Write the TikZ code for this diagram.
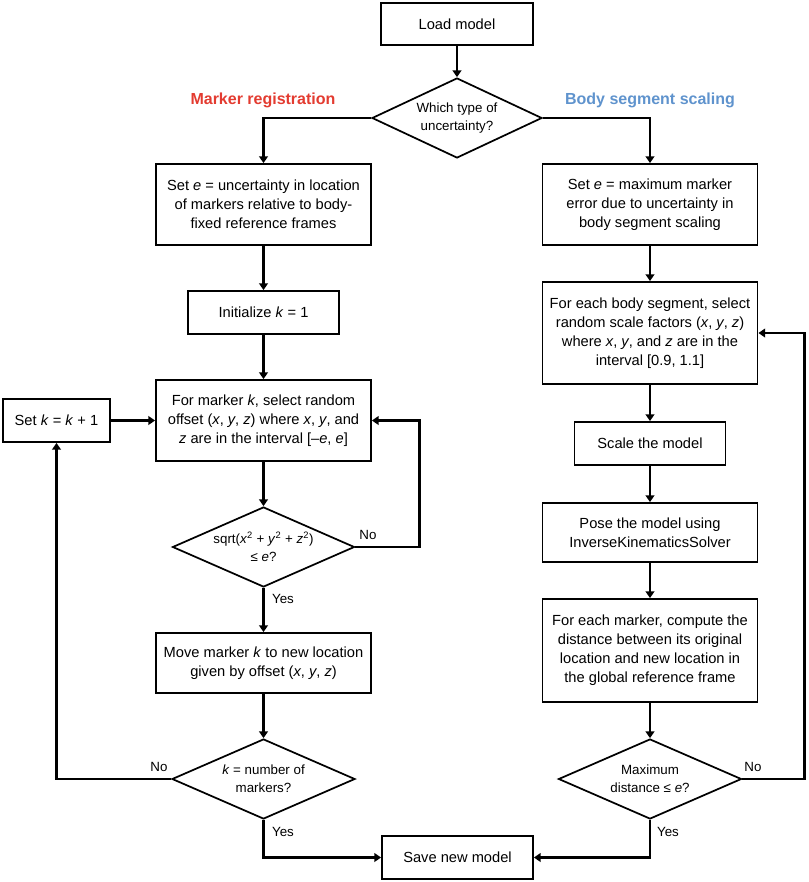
\documentclass[tikz,border=0pt]{standalone}
\usepackage{fontspec}
\setmainfont{Liberation Sans}
\usepackage{tikz}
\usetikzlibrary{arrows.meta,shapes.geometric}
\usepackage{xcolor}
\definecolor{regred}{HTML}{E33B30}
\definecolor{segblue}{HTML}{5F93CD}

\begin{document}
\begin{tikzpicture}[
  x=0.75pt, y=-0.75pt,
  box/.style={draw, line width=1.4pt, inner sep=2pt, align=center,
              font=\fontsize{11}{14.25}\selectfont},
  wide/.style={box, minimum width=161.25pt},
  narrow/.style={box, minimum width=113.25pt},
  test/.style={draw, line width=1.3pt, shape=diamond, aspect=2.2,
               inner sep=0pt, align=center, minimum height=60pt,
               font=\fontsize{10}{13.5}\selectfont},
  arrow/.style={-{Triangle[length=5pt,width=6.5pt]}, line width=2.2pt},
  tag/.style={font=\fontsize{10}{12}\selectfont},
  title/.style={font=\fontsize{12}{14}\selectfont\bfseries},
]
  \useasboundingbox (0,0) rectangle (809,882);

  \node[narrow, minimum width=114pt, minimum height=31.5pt] (load) at (457,24) {Load model};
  \node[test, minimum width=127.5pt] (utype) at (457,118) {Which type of\\uncertainty?};
  \node[title, text=regred]  (mtitle) at (263,100) {Marker registration};
  \node[title, text=segblue] (stitle) at (650,100) {Body segment scaling};

  % marker registration
  \node[wide, minimum height=60.75pt] (mset) at (263.5,204.5)
    {Set \textit{e} = uncertainty in location\\of markers relative to body-\\fixed reference frames};
  \node[narrow, minimum height=32.25pt] (kinit) at (263.5,312.5) {Initialize \textit{k} = 1};
  \node[wide, minimum height=60.75pt] (offset) at (263.5,420.5)
    {For marker \textit{k}, select random\\offset (\textit{x}, \textit{y}, \textit{z}) where \textit{x}, \textit{y}, and\\\textit{z} are in the interval [–\textit{e}, \textit{e}]};
  \node[box, minimum width=80.25pt, minimum height=32.25pt] (kinc) at (56.5,420.5)
    {Set \textit{k} = \textit{k} + 1};
  \node[test, minimum width=136.5pt] (dist) at (263.5,547)
    {sqrt(\textit{x}\textsuperscript{2} + \textit{y}\textsuperscript{2} + \textit{z}\textsuperscript{2})\\≤ \textit{e}?};
  \node[wide, minimum height=45pt] (move) at (263.5,663)
    {Move marker \textit{k} to new location\\given by offset (\textit{x}, \textit{y}, \textit{z})};
  \node[test, minimum width=137.25pt] (last) at (263.5,779) {\textit{k} = number of\\markers?};

  % body segment scaling
  \node[wide, minimum height=60.75pt] (sset) at (650,204.5)
    {Set \textit{e} = maximum marker\\error due to uncertainty in\\body segment scaling};
  \node[wide, minimum height=76.5pt] (factors) at (650,333)
    {For each body segment, select\\random scale factors (\textit{x}, \textit{y}, \textit{z})\\where \textit{x}, \textit{y}, and \textit{z} are in the\\interval [0.9, 1.1]};
  \node[narrow, minimum height=32.25pt] (scale) at (650,443.5) {Scale the model};
  \node[wide, minimum height=44.25pt] (pose) at (650,532.5)
    {Pose the model using\\InverseKinematicsSolver};
  \node[wide, minimum height=77.25pt] (error) at (650,650.5)
    {For each marker, compute the\\distance between its original\\location and new location in\\the global reference frame};
  \node[test, minimum width=137.25pt] (maxerr) at (650,779) {Maximum\\distance ≤ \textit{e}?};

  \node[narrow, minimum height=32.25pt] (save) at (457.5,857.5) {Save new model};

  \node[tag] (dno)  at (368,535) {No};
  \node[tag] (dyes) at (283,599) {Yes};
  \node[tag] (lno)  at (159,767) {No};
  \node[tag] (lyes) at (283,832) {Yes};
  \node[tag] (mno)  at (753,767) {No};
  \node[tag] (myes) at (668,832) {Yes};

  \draw[arrow] (load) -- (utype);
  \draw[arrow] (utype.west) -| (mset.north);
  \draw[arrow] (utype.east) -| (sset.north);

  \draw[arrow] (mset)   -- (kinit);
  \draw[arrow] (kinit)  -- (offset);
  \draw[arrow] (offset) -- (dist);
  \draw[arrow] (dist)   -- (move);
  \draw[arrow] (move)   -- (last);
  \draw[arrow] (kinc)   -- (offset);
  \draw[arrow] (dist.east) -- ++(64,0) |- (offset.east);
  \draw[arrow] (last.west) -| (kinc.south);
  \draw[arrow] (last.south) |- (save.west);

  \draw[arrow] (sset)    -- (factors);
  \draw[arrow] (factors) -- (scale);
  \draw[arrow] (scale)   -- (pose);
  \draw[arrow] (pose)    -- (error);
  \draw[arrow] (error)   -- (maxerr);
  \draw[arrow] (maxerr.east) -- ++(62,0) |- (factors.east);
  \draw[arrow] (maxerr.south) |- (save.east);
\end{tikzpicture}
\end{document}
